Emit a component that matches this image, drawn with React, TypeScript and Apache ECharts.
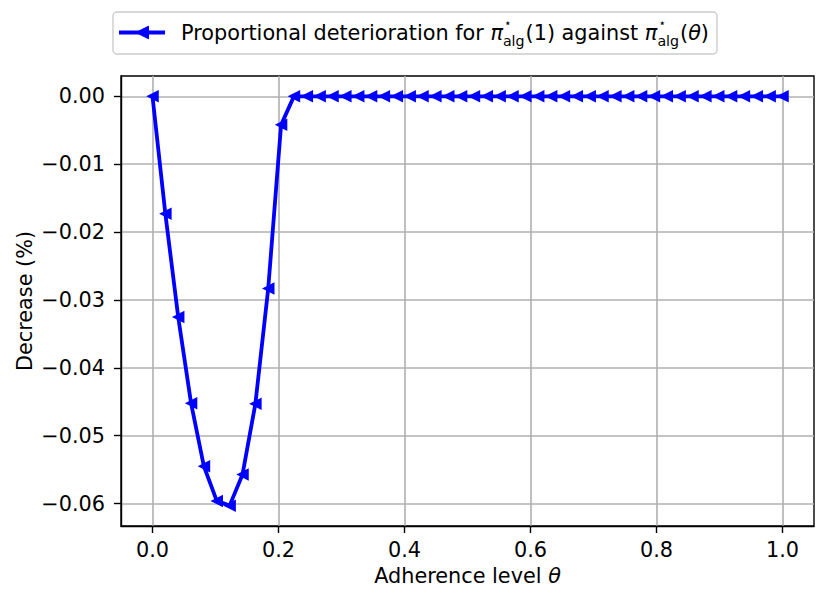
import React, { useEffect, useRef } from "react";
import * as echarts from "echarts";

const thetaValues = [
  0, 0.0204, 0.0408, 0.0612, 0.0816, 0.102, 0.1224, 0.1429, 0.1633, 0.1837,
  0.2041, 0.2245, 0.2449, 0.2653, 0.2857, 0.3061, 0.3265, 0.3469, 0.3673, 0.3878,
  0.4082, 0.4286, 0.449, 0.4694, 0.4898, 0.5102, 0.5306, 0.551, 0.5714, 0.5918,
  0.6122, 0.6327, 0.6531, 0.6735, 0.6939, 0.7143, 0.7347, 0.7551, 0.7755, 0.7959,
  0.8163, 0.8367, 0.8571, 0.8776, 0.898, 0.9184, 0.9388, 0.9592, 0.9796, 1.0,
];
const decreaseValues = [
  0, -0.0173, -0.0325, -0.0452, -0.0545, -0.0596, -0.0603, -0.0557, -0.0453, -0.0283,
  -0.0042, 0, 0, 0, 0, 0, 0, 0, 0, 0,
  0, 0, 0, 0, 0, 0, 0, 0, 0, 0,
  0, 0, 0, 0, 0, 0, 0, 0, 0, 0,
  0, 0, 0, 0, 0, 0, 0, 0, 0, 0,
];
const xTicks = [0, 0.2, 0.4, 0.6, 0.8, 1.0];
const yTicks = [0, -0.01, -0.02, -0.03, -0.04, -0.05, -0.06];

const FONT = "DejaVu Sans";
const BLUE = "#0000ff";
const FS = 20.8;

function measure(text: string, size: number, italic = false): number {
  const c = document.createElement("canvas");
  const ctx = c.getContext("2d");
  if (!ctx) return text.length * size * 0.6;
  ctx.font = `${italic ? "italic " : ""}${size}px "${FONT}"`;
  return ctx.measureText(text).width;
}

function buildLegend(): any[] {
  const fs = FS;
  const subFs = 14.2;
  const starFs = 12;
  const cy = 32.5;
  let x = 181;
  const els: any[] = [];
  const put = (text: string, size: number, italic: boolean, y: number, dx?: number) => {
    els.push({
      type: "text",
      x: dx !== undefined ? dx : x,
      y,
      style: {
        text,
        fontFamily: FONT,
        fontSize: size,
        fontStyle: italic ? "italic" : "normal",
        fill: "#000",
        verticalAlign: "middle",
        align: "left",
      },
    });
    return measure(text, size, italic);
  };
  const piAlg = () => {
    const wpi = put("π", fs, true, cy);
    x += wpi;
    put("⋆", starFs, false, cy - 10, x + 1);
    const wa = put("alg", subFs, false, cy + 8.5);
    x += wa + 1;
  };
  x += put("Proportional deterioration for ", fs, false, cy);
  piAlg();
  x += put("(1) against ", fs, false, cy);
  piAlg();
  x += put("(", fs, false, cy);
  x += put("θ", fs, true, cy);
  x += put(")", fs, false, cy);

  const boxRight = x + 8;
  return [
    {
      type: "rect",
      shape: { x: 113, y: 12, width: boxRight - 113, height: 42, r: 4 },
      style: { fill: "#fff", stroke: "#cccccc", lineWidth: 1.4 },
      z: 10,
    },
    {
      type: "line",
      shape: { x1: 119, y1: cy, x2: 165, y2: cy },
      style: { stroke: BLUE, lineWidth: 3.8 },
      z: 11,
    },
    {
      type: "polygon",
      shape: { points: [[136, cy], [148.5, cy - 6.3], [148.5, cy + 6.3]] },
      style: { fill: BLUE, stroke: BLUE, lineWidth: 1 },
      z: 11,
    },
    ...els.map((e) => ({ ...e, z: 12 })),
  ];
}

export default function App() {
  const ref = useRef<HTMLDivElement>(null);
  useEffect(() => {
    if (!ref.current) return;
    const chart = echarts.init(ref.current, null, { renderer: "svg" });
    const data = thetaValues.map((t, i) => [t, decreaseValues[i]]);
    chart.setOption({
      animation: false,
      backgroundColor: "#fff",
      grid: {
        left: 121,
        right: 15,
        top: 76,
        bottom: 78,
        show: true,
        borderColor: "#000",
        borderWidth: 1.4,
        backgroundColor: "transparent",
      },
      xAxis: {
        type: "value",
        min: -0.05,
        max: 1.05,
        name: "Adherence level {i|θ}",
        nameLocation: "middle",
        nameGap: 39,
        nameMoveOverlap: false,
        nameTextStyle: {
          fontFamily: FONT,
          fontSize: FS,
          color: "#000",
          rich: { i: { fontFamily: FONT, fontSize: FS, fontStyle: "italic", color: "#000" } },
        },
        axisLine: { show: true, onZero: false, lineStyle: { color: "#000", width: 1.4 } },
        axisTick: { show: true, length: 7, customValues: xTicks, lineStyle: { color: "#000", width: 1.4 } },
        axisLabel: {
          customValues: xTicks,
          margin: 13,
          fontFamily: FONT,
          fontSize: FS,
          color: "#000",
          formatter: (v: number) => v.toFixed(1),
        },
        splitLine: { show: true, lineStyle: { color: "#b0b0b0", width: 1.6 } },
      },
      yAxis: {
        type: "value",
        min: -0.0633,
        max: 0.003,
        name: "Decrease (%)",
        nameLocation: "middle",
        nameGap: 86,
        nameMoveOverlap: false,
        nameTextStyle: { fontFamily: FONT, fontSize: FS, color: "#000" },
        axisLine: { show: true, onZero: false, lineStyle: { color: "#000", width: 1.4 } },
        axisTick: { show: true, length: 7, customValues: yTicks, lineStyle: { color: "#000", width: 1.4 } },
        axisLabel: {
          customValues: yTicks,
          margin: 16,
          fontFamily: FONT,
          fontSize: FS,
          color: "#000",
          formatter: (v: number) => (v < -1e-9 ? "\u2212" : "") + Math.abs(v).toFixed(2),
        },
        splitLine: { show: true, lineStyle: { color: "#b0b0b0", width: 1.6 } },
      },
      series: [
        {
          type: "line",
          name: "Proportional deterioration",
          data,
          symbol: "triangle",
          symbolRotate: 90,
          symbolSize: 12.5,
          showAllSymbol: true,
          lineStyle: { color: BLUE, width: 3.8 },
          itemStyle: { color: BLUE },
          z: 3,
        },
      ],
      graphic: buildLegend(),
    });
    return () => chart.dispose();
  }, []);
  return <div ref={ref} style={{ width: 829, height: 604, margin: -8 }} />;
}
